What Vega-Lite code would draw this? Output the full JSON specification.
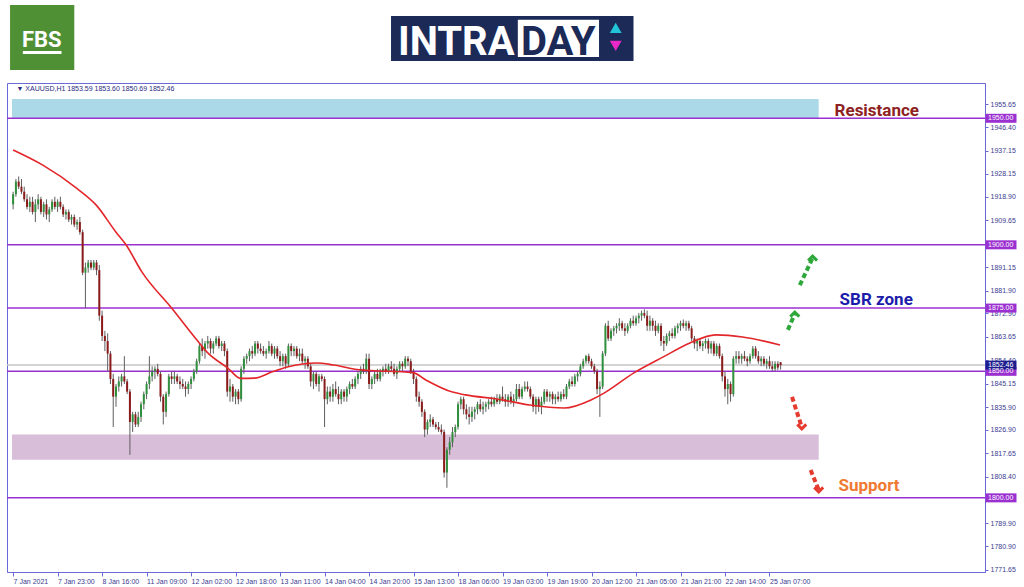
{
"$schema": "https://vega.github.io/schema/vega-lite/v6.json",
"width": 978, "height": 489,
"autosize": {"type": "none"},
"padding": {"left": 7, "top": 83, "right": 39, "bottom": 15},
"background": "white",
"config": {"view": {"stroke": "#6a6ad6", "strokeWidth": 1}, "font": "Liberation Sans",
  "axis": {"labelOverlap": false}},
"resolve": {"scale": {"color": "independent", "shape": "independent"}},
"datasets": {
"zones": [
{"zone": "resistance", "i1": -0.4, "i2": 289.7, "p1": 1950, "p2": 1957.6},
{"zone": "support", "i1": -0.4, "i2": 289.7, "p1": 1815.1, "p2": 1825.0}
],
"levels": [{"p": 1950}, {"p": 1900}, {"p": 1875}, {"p": 1850}, {"p": 1800}],
"current": [{"p": 1852.46}],
"ma": [
{"i":0,"p":1937.5},{"i":10.7,"p":1931.5},{"i":22.8,"p":1922.4},{"i":29.9,"p":1915.7},{"i":37,"p":1905},{"i":40.6,"p":1900},{"i":46.3,"p":1889.3},{"i":57,"p":1875},{"i":65.5,"p":1863.2},{"i":70.1,"p":1857.2},{"i":77.2,"p":1851.3},{"i":81.9,"p":1847.2},{"i":86.8,"p":1847.3},{"i":93.2,"p":1849.8},{"i":98.6,"p":1851.7},{"i":109.3,"p":1853.3},{"i":115.3,"p":1852.5},{"i":124.6,"p":1850.6},{"i":143.8,"p":1849.5},{"i":148.4,"p":1846.6},{"i":158,"p":1841.8},{"i":162.6,"p":1840.7},{"i":174.4,"p":1839},{"i":185.8,"p":1836.7},{"i":198.2,"p":1835.5},{"i":207.8,"p":1838.7},{"i":212.5,"p":1841.4},{"i":223.1,"p":1849.3},{"i":233.8,"p":1855.7},{"i":243.4,"p":1861.2},{"i":252.7,"p":1864.4},{"i":262.3,"p":1863.6},{"i":275.8,"p":1860.4}
],
"candles": [
{"i":0,"o":1916,"h":1921,"l":1914,"c":1920},{"i":1,"o":1920,"h":1926,"l":1919,"c":1925},{"i":2,"o":1925,"h":1927,"l":1922,"c":1923},{"i":3,"o":1923,"h":1926,"l":1920,"c":1921},{"i":4,"o":1921,"h":1923,"l":1917,"c":1918},{"i":5,"o":1918,"h":1920,"l":1914,"c":1915},{"i":6,"o":1915,"h":1919,"l":1913,"c":1917},{"i":7,"o":1917,"h":1919,"l":1912,"c":1913},{"i":8,"o":1913,"h":1918,"l":1909,"c":1916},{"i":9,"o":1916,"h":1920,"l":1914,"c":1918},
{"i":10,"o":1918,"h":1919,"l":1912,"c":1913},{"i":11,"o":1913,"h":1917,"l":1911,"c":1916},{"i":12,"o":1916,"h":1918,"l":1910,"c":1912},{"i":13,"o":1912,"h":1915,"l":1909,"c":1914},{"i":14,"o":1914,"h":1918,"l":1913,"c":1917},{"i":15,"o":1917,"h":1919,"l":1914,"c":1915},{"i":16,"o":1915,"h":1918,"l":1913,"c":1917},{"i":17,"o":1917,"h":1919,"l":1914,"c":1915},{"i":18,"o":1915,"h":1916,"l":1911,"c":1912},{"i":19,"o":1912,"h":1914,"l":1910,"c":1913},
{"i":20,"o":1913,"h":1914,"l":1909,"c":1910},{"i":21,"o":1910,"h":1912,"l":1908,"c":1911},{"i":22,"o":1911,"h":1912,"l":1907,"c":1908},{"i":23,"o":1908,"h":1910,"l":1906,"c":1909},{"i":24,"o":1909,"h":1911,"l":1904,"c":1905},{"i":25,"o":1905,"h":1906,"l":1888,"c":1889},{"i":26,"o":1889,"h":1893,"l":1875,"c":1891},{"i":27,"o":1891,"h":1894,"l":1889,"c":1893},{"i":28,"o":1893,"h":1894,"l":1890,"c":1891},{"i":29,"o":1891,"h":1894,"l":1890,"c":1893},
{"i":30,"o":1893,"h":1894,"l":1888,"c":1890},{"i":31,"o":1890,"h":1892,"l":1870,"c":1872},{"i":32,"o":1872,"h":1874,"l":1862,"c":1864},{"i":33,"o":1864,"h":1866,"l":1858,"c":1862},{"i":34,"o":1862,"h":1865,"l":1850,"c":1857},{"i":35,"o":1857,"h":1858,"l":1845,"c":1847},{"i":36,"o":1847,"h":1849,"l":1828,"c":1840},{"i":37,"o":1840,"h":1845,"l":1836,"c":1844},{"i":38,"o":1844,"h":1848,"l":1842,"c":1846},{"i":39,"o":1846,"h":1849,"l":1844,"c":1848},
{"i":40,"o":1848,"h":1856,"l":1845,"c":1846},{"i":41,"o":1846,"h":1847,"l":1841,"c":1842},{"i":42,"o":1842,"h":1843,"l":1817,"c":1830},{"i":43,"o":1830,"h":1834,"l":1826,"c":1833},{"i":44,"o":1833,"h":1834,"l":1828,"c":1829},{"i":45,"o":1829,"h":1834,"l":1828,"c":1832},{"i":46,"o":1832,"h":1838,"l":1830,"c":1837},{"i":47,"o":1837,"h":1842,"l":1835,"c":1841},{"i":48,"o":1841,"h":1846,"l":1839,"c":1845},{"i":49,"o":1845,"h":1856,"l":1843,"c":1848},
{"i":50,"o":1848,"h":1852,"l":1846,"c":1850},{"i":51,"o":1850,"h":1852,"l":1847,"c":1851},{"i":52,"o":1851,"h":1853,"l":1848,"c":1849},{"i":53,"o":1849,"h":1850,"l":1838,"c":1840},{"i":54,"o":1840,"h":1841,"l":1829,"c":1834},{"i":55,"o":1834,"h":1842,"l":1832,"c":1841},{"i":56,"o":1841,"h":1849,"l":1840,"c":1848},{"i":57,"o":1848,"h":1850,"l":1845,"c":1847},{"i":58,"o":1847,"h":1850,"l":1845,"c":1848},{"i":59,"o":1848,"h":1849,"l":1845,"c":1846},
{"i":60,"o":1846,"h":1848,"l":1843,"c":1845},{"i":61,"o":1845,"h":1847,"l":1843,"c":1844},{"i":62,"o":1844,"h":1846,"l":1840,"c":1843},{"i":63,"o":1843,"h":1846,"l":1841,"c":1845},{"i":64,"o":1845,"h":1848,"l":1843,"c":1847},{"i":65,"o":1847,"h":1851,"l":1846,"c":1850},{"i":66,"o":1850,"h":1855,"l":1849,"c":1854},{"i":67,"o":1854,"h":1861,"l":1853,"c":1860},{"i":68,"o":1860,"h":1863,"l":1856,"c":1858},{"i":69,"o":1858,"h":1862,"l":1855,"c":1861},
{"i":70,"o":1861,"h":1864,"l":1859,"c":1862},{"i":71,"o":1862,"h":1863,"l":1857,"c":1859},{"i":72,"o":1859,"h":1862,"l":1857,"c":1861},{"i":73,"o":1861,"h":1864,"l":1860,"c":1863},{"i":74,"o":1863,"h":1864,"l":1859,"c":1860},{"i":75,"o":1860,"h":1862,"l":1858,"c":1861},{"i":76,"o":1861,"h":1862,"l":1856,"c":1858},{"i":77,"o":1858,"h":1859,"l":1840,"c":1842},{"i":78,"o":1842,"h":1847,"l":1838,"c":1844},{"i":79,"o":1844,"h":1845,"l":1838,"c":1840},
{"i":80,"o":1840,"h":1843,"l":1837,"c":1842},{"i":81,"o":1842,"h":1843,"l":1837,"c":1839},{"i":82,"o":1839,"h":1852,"l":1838,"c":1851},{"i":83,"o":1851,"h":1856,"l":1849,"c":1855},{"i":84,"o":1855,"h":1857,"l":1853,"c":1856},{"i":85,"o":1856,"h":1859,"l":1854,"c":1858},{"i":86,"o":1858,"h":1860,"l":1855,"c":1857},{"i":87,"o":1857,"h":1862,"l":1856,"c":1861},{"i":88,"o":1861,"h":1862,"l":1857,"c":1859},{"i":89,"o":1859,"h":1861,"l":1857,"c":1858},
{"i":90,"o":1858,"h":1860,"l":1856,"c":1857},{"i":91,"o":1857,"h":1859,"l":1855,"c":1858},{"i":92,"o":1858,"h":1862,"l":1857,"c":1860},{"i":93,"o":1860,"h":1861,"l":1856,"c":1857},{"i":94,"o":1857,"h":1860,"l":1855,"c":1859},{"i":95,"o":1859,"h":1860,"l":1855,"c":1856},{"i":96,"o":1856,"h":1858,"l":1852,"c":1854},{"i":97,"o":1854,"h":1857,"l":1852,"c":1856},{"i":98,"o":1856,"h":1857,"l":1851,"c":1853},{"i":99,"o":1853,"h":1861,"l":1852,"c":1860},
{"i":100,"o":1860,"h":1861,"l":1856,"c":1858},{"i":101,"o":1858,"h":1860,"l":1856,"c":1859},{"i":102,"o":1859,"h":1860,"l":1855,"c":1856},{"i":103,"o":1856,"h":1859,"l":1854,"c":1857},{"i":104,"o":1857,"h":1859,"l":1853,"c":1854},{"i":105,"o":1854,"h":1856,"l":1851,"c":1855},{"i":106,"o":1855,"h":1856,"l":1851,"c":1852},{"i":107,"o":1852,"h":1853,"l":1844,"c":1846},{"i":108,"o":1846,"h":1850,"l":1843,"c":1849},{"i":109,"o":1849,"h":1850,"l":1844,"c":1845},
{"i":110,"o":1845,"h":1849,"l":1842,"c":1848},{"i":111,"o":1848,"h":1849,"l":1846,"c":1847},{"i":112,"o":1847,"h":1848,"l":1828,"c":1839},{"i":113,"o":1839,"h":1844,"l":1837,"c":1842},{"i":114,"o":1842,"h":1844,"l":1838,"c":1840},{"i":115,"o":1840,"h":1845,"l":1838,"c":1843},{"i":116,"o":1843,"h":1846,"l":1840,"c":1841},{"i":117,"o":1841,"h":1844,"l":1837,"c":1839},{"i":118,"o":1839,"h":1843,"l":1837,"c":1842},{"i":119,"o":1842,"h":1843,"l":1838,"c":1840},
{"i":120,"o":1840,"h":1844,"l":1838,"c":1843},{"i":121,"o":1843,"h":1846,"l":1841,"c":1845},{"i":122,"o":1845,"h":1847,"l":1843,"c":1844},{"i":123,"o":1844,"h":1848,"l":1843,"c":1847},{"i":124,"o":1847,"h":1850,"l":1845,"c":1849},{"i":125,"o":1849,"h":1852,"l":1847,"c":1851},{"i":126,"o":1851,"h":1853,"l":1849,"c":1850},{"i":127,"o":1850,"h":1857,"l":1849,"c":1855},{"i":128,"o":1855,"h":1857,"l":1843,"c":1845},{"i":129,"o":1845,"h":1848,"l":1843,"c":1847},
{"i":130,"o":1847,"h":1850,"l":1845,"c":1849},{"i":131,"o":1849,"h":1851,"l":1846,"c":1847},{"i":132,"o":1847,"h":1851,"l":1846,"c":1850},{"i":133,"o":1850,"h":1852,"l":1848,"c":1851},{"i":134,"o":1851,"h":1853,"l":1849,"c":1850},{"i":135,"o":1850,"h":1853,"l":1849,"c":1852},{"i":136,"o":1852,"h":1854,"l":1850,"c":1851},{"i":137,"o":1851,"h":1853,"l":1848,"c":1849},{"i":138,"o":1849,"h":1852,"l":1847,"c":1851},{"i":139,"o":1851,"h":1854,"l":1850,"c":1853},
{"i":140,"o":1853,"h":1854,"l":1850,"c":1852},{"i":141,"o":1852,"h":1856,"l":1851,"c":1855},{"i":142,"o":1855,"h":1856,"l":1852,"c":1854},{"i":143,"o":1854,"h":1855,"l":1849,"c":1850},{"i":144,"o":1850,"h":1851,"l":1845,"c":1847},{"i":145,"o":1847,"h":1848,"l":1838,"c":1840},{"i":146,"o":1840,"h":1842,"l":1836,"c":1838},{"i":147,"o":1838,"h":1839,"l":1832,"c":1834},{"i":148,"o":1834,"h":1835,"l":1824,"c":1827},{"i":149,"o":1827,"h":1831,"l":1825,"c":1830},
{"i":150,"o":1830,"h":1833,"l":1828,"c":1831},{"i":151,"o":1831,"h":1832,"l":1828,"c":1829},{"i":152,"o":1829,"h":1830,"l":1827,"c":1828},{"i":153,"o":1828,"h":1830,"l":1826,"c":1827},{"i":154,"o":1827,"h":1829,"l":1825,"c":1826},{"i":155,"o":1826,"h":1827,"l":1808,"c":1810},{"i":156,"o":1810,"h":1820,"l":1804,"c":1819},{"i":157,"o":1819,"h":1824,"l":1817,"c":1822},{"i":158,"o":1822,"h":1828,"l":1820,"c":1826},{"i":159,"o":1826,"h":1829,"l":1824,"c":1828},
{"i":160,"o":1828,"h":1838,"l":1827,"c":1837},{"i":161,"o":1837,"h":1840,"l":1835,"c":1839},{"i":162,"o":1839,"h":1840,"l":1833,"c":1835},{"i":163,"o":1835,"h":1837,"l":1831,"c":1833},{"i":164,"o":1833,"h":1836,"l":1829,"c":1832},{"i":165,"o":1832,"h":1836,"l":1830,"c":1834},{"i":166,"o":1834,"h":1836,"l":1831,"c":1835},{"i":167,"o":1835,"h":1838,"l":1833,"c":1837},{"i":168,"o":1837,"h":1839,"l":1834,"c":1835},{"i":169,"o":1835,"h":1838,"l":1833,"c":1836},
{"i":170,"o":1836,"h":1838,"l":1834,"c":1837},{"i":171,"o":1837,"h":1839,"l":1835,"c":1838},{"i":172,"o":1838,"h":1840,"l":1836,"c":1837},{"i":173,"o":1837,"h":1840,"l":1836,"c":1839},{"i":174,"o":1839,"h":1841,"l":1837,"c":1838},{"i":175,"o":1838,"h":1841,"l":1837,"c":1840},{"i":176,"o":1840,"h":1844,"l":1838,"c":1839},{"i":177,"o":1839,"h":1841,"l":1836,"c":1838},{"i":178,"o":1838,"h":1841,"l":1836,"c":1840},{"i":179,"o":1840,"h":1842,"l":1837,"c":1838},
{"i":180,"o":1838,"h":1841,"l":1836,"c":1839},{"i":181,"o":1839,"h":1845,"l":1838,"c":1843},{"i":182,"o":1843,"h":1845,"l":1839,"c":1840},{"i":183,"o":1840,"h":1844,"l":1839,"c":1843},{"i":184,"o":1843,"h":1846,"l":1842,"c":1844},{"i":185,"o":1844,"h":1846,"l":1842,"c":1843},{"i":186,"o":1843,"h":1844,"l":1839,"c":1840},{"i":187,"o":1840,"h":1841,"l":1834,"c":1836},{"i":188,"o":1836,"h":1840,"l":1833,"c":1839},{"i":189,"o":1839,"h":1840,"l":1834,"c":1836},
{"i":190,"o":1836,"h":1840,"l":1833,"c":1838},{"i":191,"o":1838,"h":1843,"l":1837,"c":1842},{"i":192,"o":1842,"h":1843,"l":1838,"c":1840},{"i":193,"o":1840,"h":1842,"l":1838,"c":1841},{"i":194,"o":1841,"h":1842,"l":1837,"c":1839},{"i":195,"o":1839,"h":1841,"l":1837,"c":1840},{"i":196,"o":1840,"h":1842,"l":1838,"c":1839},{"i":197,"o":1839,"h":1842,"l":1838,"c":1841},{"i":198,"o":1841,"h":1843,"l":1839,"c":1840},{"i":199,"o":1840,"h":1845,"l":1839,"c":1844},
{"i":200,"o":1844,"h":1847,"l":1843,"c":1846},{"i":201,"o":1846,"h":1848,"l":1844,"c":1845},{"i":202,"o":1845,"h":1849,"l":1844,"c":1848},{"i":203,"o":1848,"h":1850,"l":1846,"c":1849},{"i":204,"o":1849,"h":1853,"l":1848,"c":1852},{"i":205,"o":1852,"h":1855,"l":1851,"c":1854},{"i":206,"o":1854,"h":1856.5,"l":1853,"c":1856},{"i":207,"o":1856,"h":1857,"l":1853,"c":1854},{"i":208,"o":1854,"h":1855,"l":1851,"c":1852},{"i":209,"o":1852,"h":1853,"l":1849,"c":1850},
{"i":210,"o":1850,"h":1851,"l":1841,"c":1843},{"i":211,"o":1843,"h":1846,"l":1832,"c":1844},{"i":212,"o":1844,"h":1858,"l":1843,"c":1857},{"i":213,"o":1857,"h":1869,"l":1856,"c":1868},{"i":214,"o":1868,"h":1870,"l":1862,"c":1863},{"i":215,"o":1863,"h":1867,"l":1862,"c":1866},{"i":216,"o":1866,"h":1868,"l":1864,"c":1867},{"i":217,"o":1867,"h":1869,"l":1865,"c":1868},{"i":218,"o":1868,"h":1871,"l":1866,"c":1869},{"i":219,"o":1869,"h":1870,"l":1866,"c":1867},
{"i":220,"o":1867,"h":1869,"l":1864,"c":1866},{"i":221,"o":1866,"h":1869,"l":1865,"c":1868},{"i":222,"o":1868,"h":1871,"l":1867,"c":1870},{"i":223,"o":1870,"h":1872,"l":1868,"c":1869},{"i":224,"o":1869,"h":1872,"l":1868,"c":1871},{"i":225,"o":1871,"h":1873,"l":1869,"c":1872},{"i":226,"o":1872,"h":1874,"l":1870,"c":1873},{"i":227,"o":1873,"h":1874.5,"l":1871,"c":1872},{"i":228,"o":1872,"h":1874,"l":1866,"c":1868},{"i":229,"o":1868,"h":1872,"l":1866,"c":1870},
{"i":230,"o":1870,"h":1871,"l":1866,"c":1868},{"i":231,"o":1868,"h":1870,"l":1864,"c":1866},{"i":232,"o":1866,"h":1869,"l":1865,"c":1868},{"i":233,"o":1868,"h":1869,"l":1860,"c":1862},{"i":234,"o":1862,"h":1864,"l":1858,"c":1861},{"i":235,"o":1861,"h":1865,"l":1860,"c":1864},{"i":236,"o":1864,"h":1866,"l":1862,"c":1865},{"i":237,"o":1865,"h":1867,"l":1863,"c":1864},{"i":238,"o":1864,"h":1868,"l":1863,"c":1867},{"i":239,"o":1867,"h":1869,"l":1865,"c":1868},
{"i":240,"o":1868,"h":1870,"l":1866,"c":1869},{"i":241,"o":1869,"h":1870.5,"l":1867,"c":1868},{"i":242,"o":1868,"h":1870,"l":1866,"c":1869},{"i":243,"o":1869,"h":1870,"l":1866,"c":1867},{"i":244,"o":1867,"h":1868,"l":1862,"c":1863},{"i":245,"o":1863,"h":1864,"l":1859,"c":1861},{"i":246,"o":1861,"h":1863,"l":1858,"c":1862},{"i":247,"o":1862,"h":1863,"l":1859,"c":1860},{"i":248,"o":1860,"h":1862,"l":1858,"c":1861},{"i":249,"o":1861,"h":1863,"l":1859,"c":1862},
{"i":250,"o":1862,"h":1863,"l":1857,"c":1859},{"i":251,"o":1859,"h":1862,"l":1857,"c":1861},{"i":252,"o":1861,"h":1862,"l":1856,"c":1857},{"i":253,"o":1857,"h":1861,"l":1856,"c":1860},{"i":254,"o":1860,"h":1861,"l":1855,"c":1856},{"i":255,"o":1856,"h":1857,"l":1846,"c":1848},{"i":256,"o":1848,"h":1850,"l":1840,"c":1843},{"i":257,"o":1843,"h":1847,"l":1837,"c":1845},{"i":258,"o":1845,"h":1846,"l":1838,"c":1841},{"i":259,"o":1841,"h":1856,"l":1840,"c":1855},
{"i":260,"o":1855,"h":1858,"l":1853,"c":1856},{"i":261,"o":1856,"h":1858,"l":1853,"c":1855},{"i":262,"o":1855,"h":1857,"l":1853,"c":1856},{"i":263,"o":1856,"h":1858,"l":1854,"c":1855},{"i":264,"o":1855,"h":1856,"l":1852,"c":1854},{"i":265,"o":1854,"h":1857,"l":1853,"c":1856},{"i":266,"o":1856,"h":1860,"l":1855,"c":1859},{"i":267,"o":1859,"h":1860,"l":1855,"c":1856},{"i":268,"o":1856,"h":1858,"l":1853,"c":1854},{"i":269,"o":1854,"h":1856,"l":1852,"c":1855},
{"i":270,"o":1855,"h":1856,"l":1852,"c":1853},{"i":271,"o":1853,"h":1855,"l":1851,"c":1854},{"i":272,"o":1854,"h":1856,"l":1851,"c":1852},{"i":273,"o":1852,"h":1854,"l":1850,"c":1851},{"i":274,"o":1851,"h":1854,"l":1850,"c":1853},{"i":275,"o":1853,"h":1854,"l":1850.5,"c":1851.5},{"i":276,"o":1853.59,"h":1853.6,"l":1850.69,"c":1852.46}
],
"arrows": [
{"dir": "up", "i1": 282.9, "p1": 1884.1, "i2": 287.5, "p2": 1894.8},
{"dir": "up", "i1": 278.6, "p1": 1866.4, "i2": 281.1, "p2": 1872.7},
{"dir": "down", "i1": 280.1, "p1": 1839.9, "i2": 283.6, "p2": 1828.0},
{"dir": "down", "i1": 286.8, "p1": 1811.0, "i2": 289.7, "p2": 1803.1}
],
"labels": [
{"label": "Resistance", "i": 295.4, "p": 1952.9},
{"label": "SBR zone", "i": 297.2, "p": 1878.2},
{"label": "Support", "i": 296.8, "p": 1804.7}
],
"header": [{"txt": "▼  XAUUSD,H1  1853.59 1853.60 1850.69 1852.46", "i": 1.2, "p": 1961.6}],
"badges": [
{"kind": "level", "p": 1950}, {"kind": "level", "p": 1900}, {"kind": "level", "p": 1875}, {"kind": "level", "p": 1850}, {"kind": "level", "p": 1800}, {"kind": "price", "p": 1852.46}
],
"logo": [
{"part": "fbs", "i1": -1.1, "i2": 22.0, "p1": 1969.1, "p2": 1994.8},
{"part": "banner", "i1": 135.9, "i2": 223.1, "p1": 1972.6, "p2": 1990.4},
{"part": "daybox", "i1": 181.5, "i2": 210.7, "p1": 1974.2, "p2": 1988.9}
],
"logotext": [
{"part": "fbs", "txt": "FBS", "i": 10.3, "p": 1978.2},
{"part": "intra", "txt": "INTRA", "i": 138.4, "p": 1975.0},
{"part": "day", "txt": "DAY", "i": 182.6, "p": 1975.0}
],
"logoline": [{"i1": 3.5, "i2": 17.4, "p": 1976.0}],
"logoarrows": [{"dir": "up", "i": 216.7, "p": 1985.7}, {"dir": "down", "i": 216.7, "p": 1978.6}]
},
"layer": [
{"data": {"name": "zones"}, "mark": {"type": "rect"},
 "encoding": {
  "x": {"field": "i1", "type": "quantitative", "title": null,
        "scale": {"domain": [-0.4, 347.7], "nice": false, "zero": false},
        "axis": {"values": [0,16,32,48,64,80,96,112,128,144,160,176,192,208,224,240,256,272], "tickCount": 40,
                 "labelExpr": "['7 Jan 2021','7 Jan 23:00','8 Jan 16:00','11 Jan 09:00','12 Jan 02:00','12 Jan 18:00','13 Jan 11:00','14 Jan 04:00','14 Jan 20:00','15 Jan 13:00','18 Jan 06:00','19 Jan 03:00','19 Jan 19:00','20 Jan 12:00','21 Jan 05:00','21 Jan 21:00','22 Jan 14:00','25 Jan 07:00'][round(datum.value/16)]",
                 "labelAlign": "left", "labelFontSize": 7, "labelColor": "#3b3b8f", "labelFont": "Liberation Sans",
                 "domainColor": "#6a6ad6", "tickColor": "#6a6ad6", "tickSize": 4, "labelPadding": 1,
                 "grid": false, "labelOverlap": false, "labelFlush": false, "title": null}},
  "x2": {"field": "i2"},
  "y": {"field": "p1", "type": "quantitative", "title": null,
        "scale": {"domain": [1770.7, 1963.95], "nice": false, "zero": false},
        "axis": {"orient": "right", "tickCount": 40,
                 "values": [1955.65,1946.40,1937.15,1928.15,1918.90,1909.65,1891.15,1881.90,1872.90,1863.65,1854.40,1845.15,1835.90,1826.90,1817.65,1808.40,1789.90,1780.90,1771.65],
                 "format": ".2f", "labelFontSize": 7, "labelColor": "#3b3b8f", "labelFont": "Liberation Sans",
                 "domainColor": "#6a6ad6", "tickColor": "#6a6ad6", "tickSize": 3, "labelPadding": 2,
                 "grid": false, "labelOverlap": false, "labelFlush": false, "labelBound": false, "title": null}},
  "y2": {"field": "p2"},
  "color": {"field": "zone", "type": "nominal", "legend": null,
            "scale": {"domain": ["resistance", "support"], "range": ["#acd9e8", "#d8bed8"]}}
 }},
{"data": {"name": "levels"}, "mark": {"type": "rule", "color": "#9b30d0", "strokeWidth": 1.5},
 "encoding": {"y": {"field": "p", "type": "quantitative", "title": null}}},
{"data": {"name": "current"}, "mark": {"type": "rule", "color": "#c4c4c4", "strokeWidth": 1.5},
 "encoding": {"y": {"field": "p", "type": "quantitative", "title": null}}},
{"data": {"name": "candles"}, "mark": {"type": "rule", "color": "#5e5e5e", "strokeWidth": 1},
 "encoding": {"x": {"field": "i", "type": "quantitative", "title": null},
              "y": {"field": "l", "type": "quantitative", "title": null},
              "y2": {"field": "h"}}},
{"data": {"name": "candles"}, "mark": {"type": "bar", "size": 2, "orient": "vertical"},
 "encoding": {"x": {"field": "i", "type": "quantitative", "title": null},
              "y": {"field": "o", "type": "quantitative", "title": null},
              "y2": {"field": "c"},
              "color": {"condition": {"test": "datum.c >= datum.o", "value": "#2f8f3c"}, "value": "#8b1a1a"}}},
{"data": {"name": "ma"}, "mark": {"type": "line", "color": "#e3262a", "strokeWidth": 1.6, "interpolate": "monotone"},
 "encoding": {"x": {"field": "i", "type": "quantitative", "title": null},
              "y": {"field": "p", "type": "quantitative", "title": null}}},
{"data": {"name": "arrows"}, "mark": {"type": "rule", "strokeWidth": 4, "strokeDash": [5, 3]},
 "encoding": {"x": {"field": "i1", "type": "quantitative", "title": null}, "x2": {"field": "i2"},
              "y": {"field": "p1", "type": "quantitative", "title": null}, "y2": {"field": "p2"},
              "color": {"field": "dir", "type": "nominal", "legend": null,
                        "scale": {"domain": ["up", "down"], "range": ["#2ea83a", "#e53a2e"]}}}},
{"data": {"name": "arrows"}, "mark": {"type": "point", "filled": false, "strokeWidth": 3, "size": 80, "opacity": 1},
 "encoding": {"x": {"field": "i2", "type": "quantitative", "title": null},
              "y": {"field": "p2", "type": "quantitative", "title": null},
              "shape": {"field": "dir", "type": "nominal", "legend": null,
                        "scale": {"domain": ["up", "down"], "range": ["M-1,0.6L0,-0.4L1,0.6", "M-1,-0.6L0,0.4L1,-0.6"]}},
              "color": {"field": "dir", "type": "nominal", "legend": null,
                        "scale": {"domain": ["up", "down"], "range": ["#2ea83a", "#e53a2e"]}}}},
{"data": {"name": "labels"}, "mark": {"type": "text", "align": "left", "baseline": "middle", "fontSize": 17, "fontWeight": "bold", "font": "Roboto"},
 "encoding": {"x": {"field": "i", "type": "quantitative", "title": null},
              "y": {"field": "p", "type": "quantitative", "title": null},
              "text": {"field": "label"},
              "color": {"field": "label", "type": "nominal", "legend": null,
                        "scale": {"domain": ["Resistance", "SBR zone", "Support"], "range": ["#8e2222", "#1c1cab", "#f07a32"]}}}},
{"data": {"name": "header"}, "mark": {"type": "text", "align": "left", "baseline": "middle", "fontSize": 7, "color": "#2a2a80", "font": "Liberation Sans"},
 "encoding": {"x": {"field": "i", "type": "quantitative", "title": null},
              "y": {"field": "p", "type": "quantitative", "title": null},
              "text": {"field": "txt"}}},
{"data": {"name": "badges"}, "mark": {"type": "tick", "size": 31, "thickness": 9, "opacity": 1},
 "encoding": {"y": {"field": "p", "type": "quantitative", "title": null},
              "x": {"value": {"expr": "width + 16"}},
              "color": {"field": "kind", "type": "nominal", "legend": null,
                        "scale": {"domain": ["level", "price"], "range": ["#9b30d0", "#1d1d8f"]}}}},
{"data": {"name": "badges"}, "mark": {"type": "text", "align": "left", "baseline": "middle", "fontSize": 7, "color": "white", "font": "Liberation Sans"},
 "encoding": {"y": {"field": "p", "type": "quantitative", "title": null},
              "x": {"value": {"expr": "width + 3"}},
              "text": {"field": "p", "type": "quantitative", "format": ".2f"}}},
{"data": {"name": "logo"}, "mark": {"type": "rect"},
 "encoding": {"x": {"field": "i1", "type": "quantitative", "title": null}, "x2": {"field": "i2"},
              "y": {"field": "p1", "type": "quantitative", "title": null}, "y2": {"field": "p2"},
              "color": {"field": "part", "type": "nominal", "legend": null,
                        "scale": {"domain": ["fbs", "banner", "daybox"], "range": ["#4f9035", "#1b2a57", "#ffffff"]}}}},
{"data": {"name": "logotext"}, "transform": [{"filter": "datum.part == 'fbs'"}],
 "mark": {"type": "text", "align": "center", "baseline": "alphabetic", "fontSize": 22, "fontWeight": "bold", "font": "Roboto", "color": "white"},
 "encoding": {"x": {"field": "i", "type": "quantitative", "title": null}, "y": {"field": "p", "type": "quantitative", "title": null}, "text": {"field": "txt"}}},
{"data": {"name": "logotext"}, "transform": [{"filter": "datum.part == 'intra'"}],
 "mark": {"type": "text", "align": "left", "baseline": "alphabetic", "fontSize": 40, "fontWeight": "bold", "font": "Roboto", "color": "white"},
 "encoding": {"x": {"field": "i", "type": "quantitative", "title": null}, "y": {"field": "p", "type": "quantitative", "title": null}, "text": {"field": "txt"}}},
{"data": {"name": "logotext"}, "transform": [{"filter": "datum.part == 'day'"}],
 "mark": {"type": "text", "align": "left", "baseline": "alphabetic", "fontSize": 40, "fontWeight": "bold", "font": "Roboto", "color": "#1b2a57"},
 "encoding": {"x": {"field": "i", "type": "quantitative", "title": null}, "y": {"field": "p", "type": "quantitative", "title": null}, "text": {"field": "txt"}}},
{"data": {"name": "logoline"}, "mark": {"type": "rule", "color": "white", "strokeWidth": 3},
 "encoding": {"x": {"field": "i1", "type": "quantitative", "title": null}, "x2": {"field": "i2"}, "y": {"field": "p", "type": "quantitative", "title": null}}},
{"data": {"name": "logoarrows"}, "mark": {"type": "point", "filled": true, "size": 140, "opacity": 1},
 "encoding": {"x": {"field": "i", "type": "quantitative", "title": null},
              "y": {"field": "p", "type": "quantitative", "title": null},
              "shape": {"field": "dir", "type": "nominal", "legend": null,
                        "scale": {"domain": ["up", "down"], "range": ["triangle-up", "triangle-down"]}},
              "color": {"field": "dir", "type": "nominal", "legend": null,
                        "scale": {"domain": ["up", "down"], "range": ["#22c4d8", "#e829c8"]}}}}
]
}
